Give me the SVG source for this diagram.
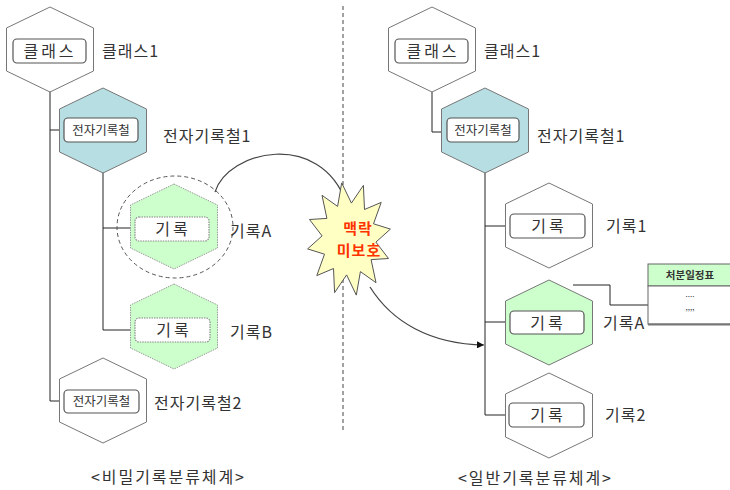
<svg xmlns="http://www.w3.org/2000/svg" width="730" height="490" viewBox="0 0 730 490">
<style>
text{font-family:"Noto Sans CJK KR","Noto Sans",sans-serif;fill:#333;}
.lbl{font-size:16px;letter-spacing:1px;}
.in{font-size:16px;letter-spacing:3px;text-anchor:middle;}
.ins{font-size:12.5px;text-anchor:middle;}
.hex{fill:#fff;stroke:#777;stroke-width:1;}
.teal{fill:#B7DEE3;stroke:#777;stroke-width:1;}
.gdot{fill:#CCFFCC;stroke:#999;stroke-width:1;stroke-dasharray:1.5,1;}
.gsol{fill:#CCFFCC;stroke:#777;stroke-width:1;}
.box{fill:#fff;stroke:#555;stroke-width:1.2;}
.boxd{fill:#fff;stroke:#888;stroke-width:1.2;stroke-dasharray:1.5,1;}
.ln{fill:none;stroke:#222;stroke-width:1;}
.cv{fill:none;stroke:#444;stroke-width:1.2;}
</style>
<defs>
<marker id="arr" viewBox="0 0 10 10" refX="10" refY="5" markerWidth="8" markerHeight="7" markerUnits="userSpaceOnUse" orient="auto">
<path d="M0,0 L10,5 L0,10 z" fill="#111"/>
</marker>
</defs>

<line x1="343" y1="6" x2="343" y2="432" stroke="#444" stroke-width="1" stroke-dasharray="4,3"/>

<g id="connectors">
<path class="ln" d="M50,63 V401 H64"/>
<path class="ln" d="M50,130 H64"/>
<path class="ln" d="M103,142 V330 H135"/>
<path class="ln" d="M103,228 H135"/>
<path class="ln" d="M432,63 V132 H447"/>
<path class="ln" d="M485,142 V415 H509"/>
<path class="ln" d="M485,226 H510"/>
<path class="ln" d="M485,322 H510"/>
<path class="ln" d="M573,285 H610 V305 H648"/>
<path class="cv" d="M215,192 C228,150 320,130 346,202"/>
<path class="cv" d="M370,287 C392,322 430,344 484,345" marker-end="url(#arr)"/>
</g>

<g id="left-class">
<polygon class="hex" points="50,7 93.5,28 93.5,71 50,92 6.5,71 6.5,28"/>
<rect class="box" x="13" y="39" width="73" height="24" rx="4"/>
<text class="in" x="50" y="57">클래스</text>
<text class="lbl" x="102" y="57">클래스1</text>
</g>
<g id="left-file1">
<polygon class="teal" points="103,88 146.5,109 146.5,152 103,173 59.5,152 59.5,109"/>
<rect class="box" x="64" y="118" width="74" height="24" rx="4"/>
<text class="ins" x="101" y="135">전자기록철</text>
<text class="lbl" x="163" y="142">전자기록철1</text>
</g>
<g id="left-recA">
<ellipse cx="175" cy="227" rx="58" ry="51" fill="none" stroke="#555" stroke-width="1" stroke-dasharray="4,3"/>
<polygon class="gdot" points="174,184 217.5,205 217.5,248 174,269 130.5,248 130.5,205"/>
<rect class="boxd" x="135" y="217" width="74" height="24" rx="4"/>
<text class="in" x="173" y="235">기록</text>
<text class="lbl" x="230" y="237">기록A</text>
</g>
<g id="left-recB">
<polygon class="gdot" points="174,284 217.5,305 217.5,348 174,369 130.5,348 130.5,305"/>
<rect class="boxd" x="135" y="318" width="75" height="24" rx="4"/>
<text class="in" x="174" y="336">기록</text>
<text class="lbl" x="230" y="338">기록B</text>
</g>
<g id="left-file2">
<polygon class="hex" points="103,358 146.5,379 146.5,422 103,443 59.5,422 59.5,379"/>
<rect class="box" x="64" y="390" width="75" height="23" rx="4"/>
<text class="ins" x="101.5" y="406">전자기록철</text>
<text class="lbl" x="154" y="409">전자기록철2</text>
</g>
<text class="lbl" x="91" y="483" textLength="154">&lt;비밀기록분류체계&gt;</text>

<g id="right-class">
<polygon class="hex" points="432,7 475.5,28 475.5,71 432,92 388.5,71 388.5,28"/>
<rect class="box" x="395" y="39" width="73" height="24" rx="4"/>
<text class="in" x="433" y="57">클래스</text>
<text class="lbl" x="484" y="57">클래스1</text>
</g>
<g id="right-file1">
<polygon class="teal" points="485,88 528.5,109 528.5,152 485,173 441.5,152 441.5,109"/>
<rect class="box" x="447" y="118" width="72" height="24" rx="4"/>
<text class="ins" x="483" y="135">전자기록철</text>
<text class="lbl" x="537" y="142">전자기록철1</text>
</g>
<g id="right-rec1">
<polygon class="hex" points="549,183 592.5,204 592.5,247 549,268 505.5,247 505.5,204"/>
<rect class="box" x="510" y="214" width="75" height="24" rx="4"/>
<text class="in" x="549" y="232">기록</text>
<text class="lbl" x="606" y="232">기록1</text>
</g>
<g id="right-recA">
<polygon class="gsol" points="549,280 592.5,301 592.5,344 549,365 505.5,344 505.5,301"/>
<rect class="box" x="510" y="311" width="74" height="23" rx="4"/>
<text class="in" x="548" y="329">기록</text>
<text class="lbl" x="603" y="329">기록A</text>
</g>
<g id="right-rec2">
<polygon class="hex" points="549,373 592.5,394 592.5,437 549,458 505.5,437 505.5,394"/>
<rect class="box" x="509" y="403" width="75" height="24" rx="4"/>
<text class="in" x="548" y="421">기록</text>
<text class="lbl" x="605" y="421">기록2</text>
</g>
<g id="table">
<rect x="648" y="264" width="90" height="22" fill="#CCFFCC" stroke="#666" stroke-width="1"/>
<rect x="648" y="286" width="90" height="38" fill="#fff" stroke="#666" stroke-width="1"/>
<line x1="648" y1="324.5" x2="730" y2="324.5" stroke="#777" stroke-width="2"/>
<text x="690" y="279" font-size="10.5" font-weight="bold" text-anchor="middle">처분일정표</text>
<text x="690" y="297" font-size="8" text-anchor="middle">....</text>
<text x="690" y="310" font-size="8" text-anchor="middle">,,,,</text>
</g>
<text class="lbl" x="458" y="484" textLength="154">&lt;일반기록분류체계&gt;</text>

<g id="star">
<polygon fill="#FFFFC4" stroke="#555" stroke-width="1" points="341.7,182.9 351.4,203.1 363.4,185.4 364.5,209.5 381.2,202.4 373.5,223.8 390.4,229.1 375.9,242.1 388.5,258.5 371.1,259.6 376,282.7 360.4,271.6 356.3,295.1 346.6,274.9 334.6,292.6 333.5,268.5 316.8,275.6 324.5,254.2 307.6,248.9 322.1,235.9 309.5,219.5 326.9,218.4 322,195.3 337.6,206.4"/>
<text x="358" y="234" font-size="15" font-weight="bold" text-anchor="middle" style="fill:#FF3300" letter-spacing="1">맥락</text>
<text x="359" y="256" font-size="15" font-weight="bold" text-anchor="middle" style="fill:#FF3300" letter-spacing="1">미보호</text>
</g>
</svg>
